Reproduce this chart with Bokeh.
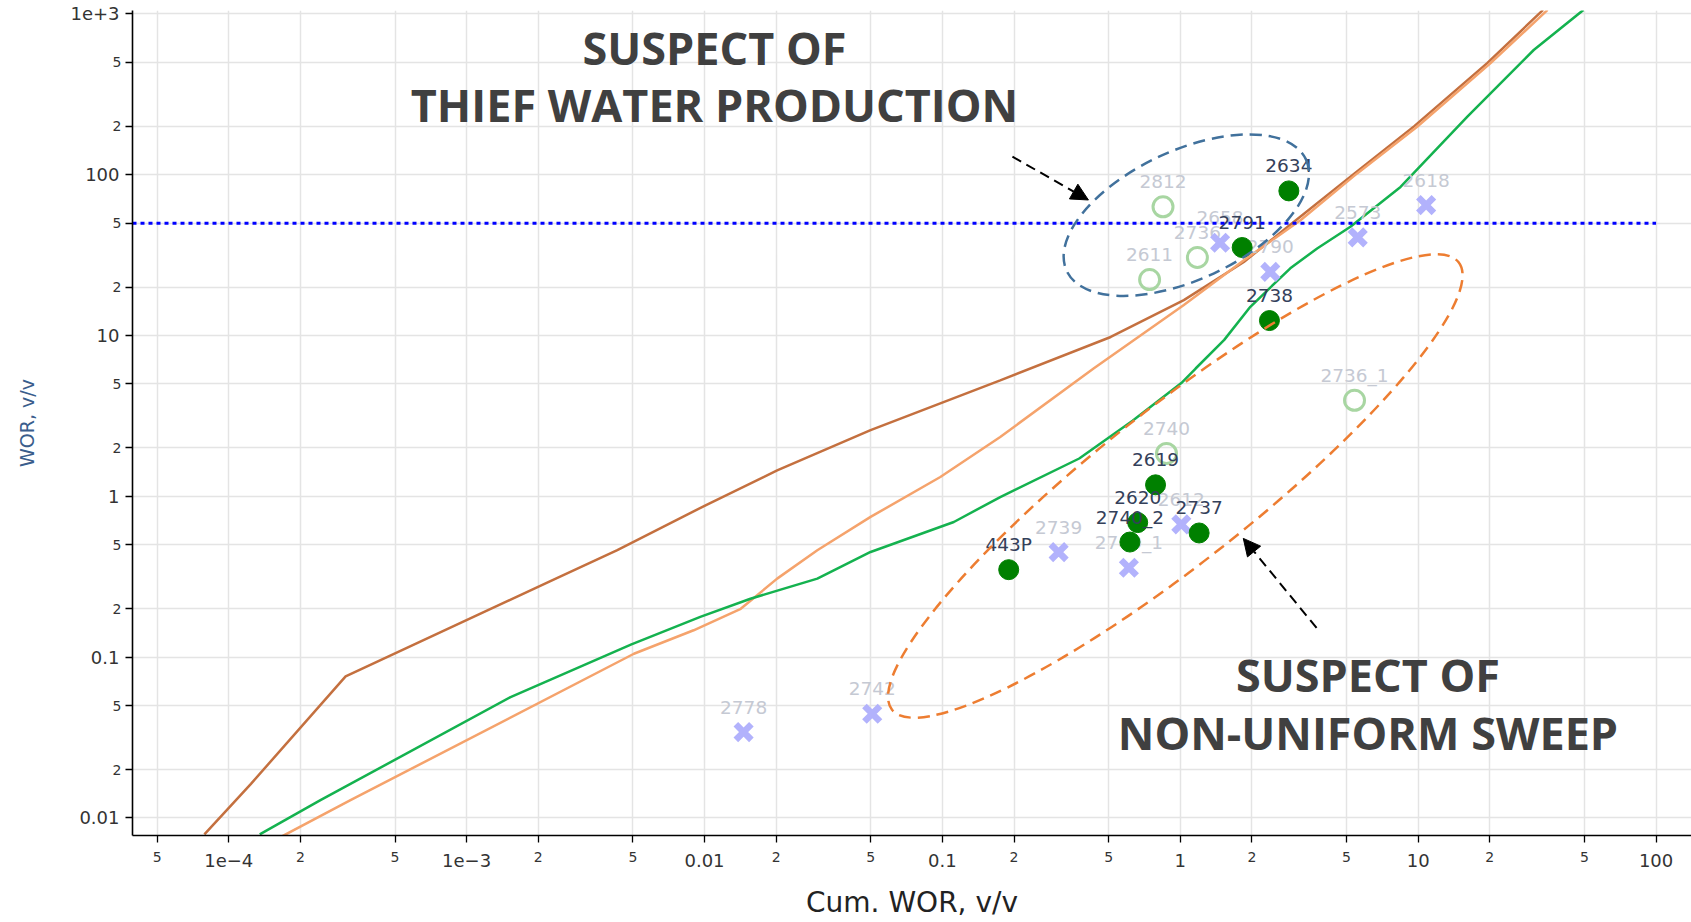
from bokeh.plotting import figure
from bokeh.models import (Range1d, FixedTicker, LogAxis, Arrow, NormalHead, Label,
                          ColumnDataSource)
from bokeh.core.properties import value
from bokeh.embed import file_html
from bokeh.resources import INLINE

# ---- axis extents and ticks -------------------------------------------------
X_LO, X_HI = 3.94e-5, 140.9
Y_LO, Y_HI = 0.00778, 1051.0

x_ticks_major = [1e-4, 1e-3, 0.01, 0.1, 1.0, 10.0, 100.0]
x_labels_major = ["1e\u22124", "1e\u22123", "0.01", "0.1", "1", "10", "100"]
x_ticks_minor = [5e-5, 2e-4, 5e-4, 2e-3, 5e-3, 0.02, 0.05, 0.2, 0.5, 2.0, 5.0, 20.0, 50.0]
x_labels_minor = ["5", "2", "5", "2", "5", "2", "5", "2", "5", "2", "5", "2", "5"]

y_ticks_major = [0.01, 0.1, 1.0, 10.0, 100.0, 1000.0]
y_labels_major = ["0.01", "0.1", "1", "10", "100", "1e+3"]
y_ticks_minor = [0.02, 0.05, 0.2, 0.5, 2.0, 5.0, 20.0, 50.0, 200.0, 500.0]
y_labels_minor = ["2", "5", "2", "5", "2", "5", "2", "5", "2", "5"]

# ---- type curves (WOR vs cumulative WOR) -------------------------------------
brown_x = [7.9e-5, 1.24e-4, 3.1e-4, 2.25e-3, 4.3e-3, 0.0101, 0.0202, 0.0499, 0.175,
           0.51, 1.035, 1.85, 2.72, 5.4, 9.6, 19.5, 33.5]
brown_y = [0.0079, 0.0163, 0.076, 0.297, 0.463, 0.88, 1.45, 2.58, 5.27,
           9.8, 16.6, 28.7, 45.3, 102, 200, 495, 1060]

orange_x = [1.68e-4, 3.25e-4, 5.05e-3, 9.0e-3, 0.0142, 0.0202, 0.0298, 0.0499, 0.098,
            0.175, 0.432, 1.035, 1.85, 3.2, 5.54, 9.9, 20.1, 35.0]
orange_y = [0.0077, 0.0129, 0.105, 0.147, 0.2, 0.308, 0.462, 0.745, 1.32,
            2.34, 6.24, 15.5, 29.4, 52.2, 102, 199, 493, 1060]

green_x = [1.35e-4, 2.43e-4, 1.53e-3, 4.93e-3, 9.6e-3, 0.0156, 0.0298, 0.0499, 0.1117,
           0.175, 0.376, 0.63, 1.01, 1.16, 1.53, 1.97, 2.9, 3.76, 5.19, 8.43, 16.1,
           30.6, 49.5]
green_y = [0.0079, 0.0129, 0.0565, 0.12, 0.178, 0.231, 0.308, 0.451, 0.693,
           0.99, 1.72, 2.95, 5.07, 6.24, 9.4, 15.1, 26.2, 34.8, 47.5, 84, 230,
           597, 1060]

# ---- wells ------------------------------------------------------------------
active_names = ["2634", "2791", "2738", "2619", "2620", "2740_2", "2737", "443P"]
active_cwor = [2.86, 1.82, 2.37, 0.787, 0.662, 0.614, 1.20, 0.19]
active_wor = [79.4, 35.3, 12.4, 1.18, 0.687, 0.52, 0.592, 0.35]

open_names = ["2812", "2611", "2736", "2740", "2736_1"]
open_cwor = [0.846, 0.743, 1.18, 0.875, 5.4]
open_wor = [63.2, 22.3, 30.6, 1.85, 3.96]

cross_names = ["2658", "2790", "2573", "2618", "2739", "2740_1", "2612", "2778", "2742"]
cross_cwor = [1.47, 2.39, 5.57, 10.8, 0.308, 0.608, 1.01, 0.0146, 0.0507]
cross_wor = [37.8, 24.9, 40.8, 64.8, 0.45, 0.36, 0.67, 0.0342, 0.0445]

# WOR threshold line
threshold_x = [X_LO, 100.0]
threshold_y = [50.0, 50.0]

TICK_FONT = "DejaVu Sans"

p = figure(width=1691, height=922, x_axis_type="log", y_axis_type="log",
           x_range=Range1d(X_LO, X_HI), y_range=Range1d(Y_LO, Y_HI),
           output_backend="svg", toolbar_location=None,
           min_border_left=132, min_border_right=0, min_border_top=10,
           min_border_bottom=87)
p.outline_line_color = None
p.background_fill_color = "white"
p.border_fill_color = "white"

# grid at every labelled position
p.xgrid.ticker = FixedTicker(ticks=sorted(x_ticks_major + x_ticks_minor))
p.ygrid.ticker = FixedTicker(ticks=sorted(y_ticks_major + y_ticks_minor))
p.grid.grid_line_color = "#e4e4e4"
p.grid.grid_line_width = 1.5


def style_axis(ax, size, standoff, tick_out=7):
    ax.axis_line_color = "black"
    ax.axis_line_width = 1.6
    ax.major_tick_line_color = "black"
    ax.major_tick_line_width = 1.3
    ax.major_tick_out = tick_out
    ax.major_tick_in = 0
    ax.minor_tick_line_color = None
    ax.major_label_text_font = TICK_FONT
    ax.major_label_text_font_size = size
    ax.major_label_text_color = "#333333"
    ax.major_label_standoff = standoff


def labels_for(ticks, labels, blank_ticks):
    d = {t: s for t, s in zip(ticks, labels)}
    d.update({t: "" for t in blank_ticks})
    return d


# x axis, inner: line, every tick, small 2/5 labels
xa = p.xaxis[0]
xa.ticker = FixedTicker(ticks=sorted(x_ticks_major + x_ticks_minor))
xa.major_label_overrides = labels_for(x_ticks_minor, x_labels_minor, x_ticks_major)
style_axis(xa, "14px", 9)

# x axis, outer: decade labels pulled up beside the small ones, plus the title
xb = LogAxis(ticker=FixedTicker(ticks=x_ticks_major),
             major_label_overrides=labels_for(x_ticks_major, x_labels_major, []))
style_axis(xb, "18px", -11, tick_out=0)
xb.axis_line_color = None
xb.major_tick_line_color = None
xb.axis_label = "Cum. WOR, v/v"
xb.axis_label_text_font = TICK_FONT
xb.axis_label_text_font_size = "28px"
xb.axis_label_text_font_style = "normal"
xb.axis_label_text_color = "#222222"
xb.axis_label_standoff = 16
p.add_layout(xb, "below")

# y axis, inner
ya = p.yaxis[0]
ya.ticker = FixedTicker(ticks=sorted(y_ticks_major + y_ticks_minor))
ya.major_label_overrides = labels_for(y_ticks_minor, y_labels_minor, y_ticks_major)
style_axis(ya, "14px", 4)

# y axis, outer
yb = LogAxis(ticker=FixedTicker(ticks=y_ticks_major),
             major_label_overrides=labels_for(y_ticks_major, y_labels_major, []))
style_axis(yb, "18px", -10, tick_out=0)
yb.axis_line_color = None
yb.major_tick_line_color = None
yb.axis_label = "WOR, v/v"
yb.axis_label_text_font = TICK_FONT
yb.axis_label_text_font_size = "19px"
yb.axis_label_text_font_style = "normal"
yb.axis_label_text_color = "#3a5d8c"
yb.axis_label_standoff = 29
p.add_layout(yb, "left")

# ---- curves -----------------------------------------------------------------
p.line(brown_x, brown_y, line_color="#c4703f", line_width=2.5)
p.line(orange_x, orange_y, line_color="#f5a36c", line_width=2.5)
p.line(green_x, green_y, line_color="#14b24f", line_width=2.5)

LABEL_DY = -25
LABEL_SIZE = "18.5px"

open_src = ColumnDataSource(dict(x=open_cwor, y=open_wor, name=open_names))
p.scatter("x", "y", source=open_src, marker="circle", size=20, fill_color=None,
          line_color="#a8d6a2", line_width=3)
p.text("x", "y", text="name", source=open_src, y_offset=LABEL_DY, text_align="center",
       text_baseline="alphabetic", text_font=value(TICK_FONT), text_font_size=LABEL_SIZE,
       text_color="#c5c9d3")

cross_src = ColumnDataSource(dict(x=cross_cwor, y=cross_wor, name=cross_names))
p.scatter("x", "y", source=cross_src, marker="x", size=22, line_color="#b2b2fc",
          line_width=6.5)
p.text("x", "y", text="name", source=cross_src, y_offset=LABEL_DY, text_align="center",
       text_baseline="alphabetic", text_font=value(TICK_FONT), text_font_size=LABEL_SIZE,
       text_color="#c5c9d3")

active_src = ColumnDataSource(dict(x=active_cwor, y=active_wor, name=active_names))
p.scatter("x", "y", source=active_src, marker="circle", size=20, fill_color="#008000",
          line_color="#008000")
p.text("x", "y", text="name", source=active_src, y_offset=LABEL_DY, text_align="center",
       text_baseline="alphabetic", text_font=value(TICK_FONT), text_font_size=LABEL_SIZE,
       text_color="#34405a")

# ---- threshold and highlight regions ----------------------------------------
p.line(threshold_x, threshold_y, line_color="#0000ff", line_width=3, line_dash="4 4")

p.ellipse(x=[1.06], y=[56.1], width=[264], height=[129], angle=25, angle_units="deg",
          width_units="screen", height_units="screen", fill_color=None,
          line_color="#41719c", line_width=2.5, line_dash="12 7")
p.ellipse(x=[0.953], y=[1.16], width=[722], height=[154], angle=38.3, angle_units="deg",
          width_units="screen", height_units="screen", fill_color=None,
          line_color="#ed7d31", line_width=2.5, line_dash="12 7")

p.add_layout(Arrow(end=NormalHead(size=17, fill_color="black", line_color="black"),
                   x_start=0.197, y_start=129.7, x_end=0.411, y_end=69.7,
                   line_color="black", line_width=2, line_dash="10 6"))
p.add_layout(Arrow(end=NormalHead(size=17, fill_color="black", line_color="black"),
                   x_start=3.74, y_start=0.152, x_end=1.84, y_end=0.548,
                   line_color="black", line_width=2, line_dash="10 6"))

for tx, ty, txt in [(0.01101, 620, "SUSPECT OF"),
                    (0.01101, 272, "THIEF WATER PRODUCTION"),
                    (6.15, 0.0775, "SUSPECT OF"),
                    (6.15, 0.0342, "NON-UNIFORM SWEEP")]:
    p.add_layout(Label(x=tx, y=ty, text=txt, text_align="center", text_baseline="middle",
                       text_font="Open Sans", text_font_style="bold",
                       text_font_size="45px", text_color="#404040"))

open("out.html", "w").write(file_html(p, INLINE))
